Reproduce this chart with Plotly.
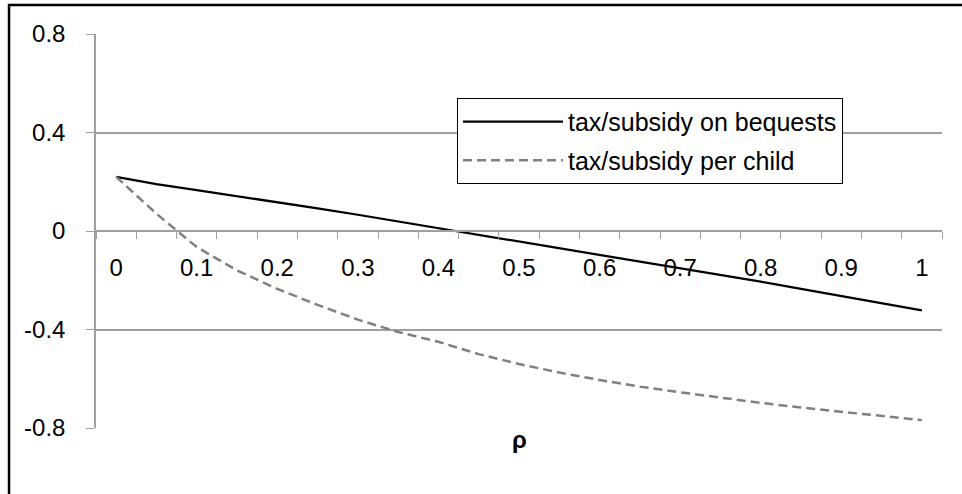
import plotly.graph_objects as go

rho = [0.0, 0.05, 0.1, 0.15, 0.2, 0.25, 0.3, 0.35, 0.4, 0.45, 0.5,
       0.55, 0.6, 0.65, 0.7, 0.75, 0.8, 0.85, 0.9, 0.95, 1.0]
bequests = [0.220, 0.190, 0.166, 0.142, 0.118, 0.092, 0.066, 0.039, 0.011, -0.016, -0.043,
            -0.070, -0.097, -0.123, -0.150, -0.178, -0.206, -0.235, -0.264, -0.293, -0.322]
per_child = [0.220, 0.070, -0.065, -0.160, -0.235, -0.300, -0.360, -0.410, -0.450, -0.500, -0.540,
             -0.575, -0.605, -0.632, -0.655, -0.677, -0.698, -0.717, -0.735, -0.752, -0.768]

x_tickvals = [0.0, 0.1, 0.2, 0.3, 0.4, 0.5, 0.6, 0.7, 0.8, 0.9, 1.0]
x_ticktext = ["0", "0.1", "0.2", "0.3", "0.4", "0.5", "0.6", "0.7", "0.8", "0.9", "1"]
y_tickvals = [-0.8, -0.4, 0.0, 0.4, 0.8]
y_ticktext = ["-0.8", "-0.4", "0", "0.4", "0.8"]

FONT = "Arial, Liberation Sans, sans-serif"
GRID = "#a0a0a0"

fig = go.Figure()
fig.add_trace(go.Scatter(x=rho, y=bequests, mode="lines", name="tax/subsidy on bequests",
                         legendgroup="a",
                         line=dict(color="black", width=2.25)))
fig.add_trace(go.Scatter(x=rho, y=per_child, mode="lines", name="tax/subsidy per child",
                         legendgroup="b",
                         line=dict(color="#808080", width=2.5, dash="9px,5px")))

fig.update_layout(
    width=962, height=494,
    margin=dict(l=96, r=20, t=34, b=66),
    paper_bgcolor="white", plot_bgcolor="white",
    font=dict(family=FONT, size=24, color="black"),
    showlegend=True,
    legend=dict(x=0.4267, y=0.8376, xanchor="left", yanchor="top",
                bgcolor="white", bordercolor="black", borderwidth=1,
                font=dict(family=FONT, size=25, color="black"),
                tracegroupgap=3, itemwidth=100),
    xaxis=dict(range=[-0.025, 1.025], anchor="free", position=0.5,
               tickmode="array", tickvals=x_tickvals, ticktext=x_ticktext,
               ticks="outside", ticklen=7, tickcolor="rgba(0,0,0,0)",
               ticklabelstandoff=8,
               minor=dict(ticks="outside", tick0=-0.025, dtick=0.05, ticklen=7,
                          tickcolor=GRID, tickwidth=1, showgrid=False),
               showline=True, linecolor=GRID, linewidth=1.5,
               showgrid=False, zeroline=False),
    yaxis=dict(range=[-0.8, 0.8], tickmode="array", tickvals=y_tickvals, ticktext=y_ticktext,
               ticks="outside", ticklen=8, tickcolor=GRID, tickwidth=1,
               ticklabelstandoff=16,
               showline=True, linecolor=GRID, linewidth=1.5,
               showgrid=True, gridcolor=GRID, gridwidth=1.5, zeroline=False),
    annotations=[dict(text="<b>ρ</b>", x=0.5, y=-0.0685, xref="paper", yref="paper",
                      showarrow=False, font=dict(family=FONT, size=24, color="black"))],
    shapes=[dict(type="rect", xref="paper", yref="paper",
                 x0=-0.1028, y0=-0.3, x1=1.2, y1=1.0736,
                 line=dict(color="black", width=2.5), fillcolor="rgba(0,0,0,0)",
                 layer="above")],
)

fig.write_html("out.html", config={"displayModeBar": False},
               post_script="document.body.style.margin='0';")
